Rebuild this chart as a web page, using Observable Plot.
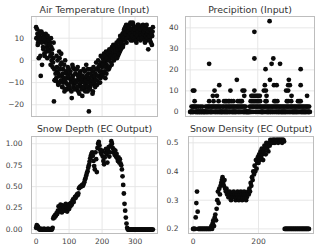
<!DOCTYPE html>
<html><head><meta charset="utf-8">
<script src="https://cdn.jsdelivr.net/npm/d3@7"></script>
<script src="https://cdn.jsdelivr.net/npm/@observablehq/plot@0.6"></script>
<style>
html,body{margin:0;padding:0;background:#fff;}
#grid{position:relative;width:320px;height:252px;overflow:hidden;font-family:"DejaVu Sans",sans-serif;}
#grid > div{position:absolute;}
svg{display:block;}
</style></head><body><div id="grid"></div>
<script>
// ---- data ----
const titles = ["Air Temperature (Input)", "Precipition (Input)", "Snow Depth (EC Output)", "Snow Density (EC Output)"];
const sampleStep = 2;     // days between samples of the series below
const recordDays = 355;   // length of the daily record

// air temperature (°C) on even days 0, 2, 4, ...
const temperature = [
  15, 10, 12, 8, 1, 11, 9, -7, 13, -2,
  9, 5, 11, 2, 8, 10, 6, 1, 9, 7,
  4, 8, -2, 6, 3, -3, 1, -18.5, -9, -9,
  -9, 2, -5, -10, -6, 4, -10, -2, 3, -7,
  -12, -4, -8, -14, 0, -10, -6, -13, -3, -11,
  -8, -13, -5, -9, -17, -2, -7, -11, -4, -10,
  -6, -13, -9, -3, -14, -8, -11, -5, -12, -7,
  -16, -9, -4, -13, -8, -11, -2, -10, -14, -6,
  -23, -9, -12, -4, -10, -7, -14, -3, -8, -11,
  -6, -1, -9, -4, 0, -7, -2, -10, 2, -5,
  -3, 1, -6, 3, -1, -8, 4, -2, 0, 2,
  -4, 5, 1, 3, -1, 6, 2, 7, 0, 4,
  6, 3, 8, 5, 2, 9, 6, 4, 10, 7,
  9, 12, 7, 13, 10, 15, 11, 8, 14, 12,
  16, 10, 13, 17, 11, 14, 9, 16, 12, 15,
  11, 14, 8, 13, 16, 10, 12, 15, 9, 13,
  14, 11, 16, 10, 13, 8, 15, 12, 9, 14,
  5, 12, 10, 14, 8, 13, 11, 15
];
// air temperature (°C) on odd days 1, 3, 5, ...
const temperatureOdd = [
  10, 14, 7, 11, 9, 13, 2, 10, 8, 12,
  6, 10, 3, 9, 12, 4, 8, 11, 5, 9,
  7, 2, 10, 0, 5, -1, 8, -4, -9, -6,
  -8, -3, 0, -11, -7, 1, -4, -9, -1, -12,
  -6, -10, -2, -9, -13, -5, -8, -11, -7, -4,
  -12, -6, -10, -14, -8, -3, -12, -9, -13, -6,
  -10, -4, -12, -7, -9, -15, -6, -10, -8, -13,
  -7, -12, -10, -5, -14, -9, -7, -12, -4, -10,
  -8, -13, -6, -11, -9, -15, -5, -10, -7, -12,
  -9, -4, -11, -7, -3, -10, -5, -8, -1, -6,
  -7, -2, 0, -5, 2, -3, -6, 1, -4, 3,
  0, -3, 4, 2, -2, 5, 1, 3, 6, 2,
  4, 7, 1, 5, 8, 3, 6, 11, 5, 8,
  11, 6, 10, 14, 9, 12, 16, 10, 13, 11,
  13, 15, 12, 9, 14, 11, 17, 13, 10, 14,
  12, 9, 15, 11, 13, 16, 10, 14, 12, 11,
  10, 15, 12, 13, 9, 14, 11, 16, 12, 10,
  13, 11, 9, 14, 12, 7, 13
];

// precipitation (mm): days with rain, grouped by amount; every other day is 0
const rainLevels = [2.54, 5.08, 7.62, 10.16, 12.7, 15.24, 20.32, 22.86, 25.4, 38.1, 43.18];
const rainDays = [
  [4, 8, 11, 15, 19, 24, 30, 36, 46, 50, 54, 58, 62, 66, 70, 74, 78, 82, 86, 90, 95, 99, 104, 108, 112, 116, 120, 124, 128, 132, 136, 140, 144, 148, 152, 156, 160, 164, 176, 180, 184, 188, 192, 196, 200, 204, 208, 212, 216, 220, 224, 228, 232, 236, 240, 244, 248, 252, 256, 260, 264, 268, 272, 276, 280, 284, 288, 292, 296, 300, 304, 308, 312, 316, 320, 324, 328, 332, 336, 340, 344, 348, 352],
  [13, 56, 69, 84, 100, 104, 108, 113, 116, 122, 128, 141, 146, 150, 153, 179, 183, 187, 191, 195, 199, 203, 207, 223, 226, 249, 253, 258, 286, 290, 299, 319, 323, 327],
  [67, 79, 160, 181, 185, 189, 194, 198, 202, 206, 226, 300, 346],
  [8, 12, 72, 119, 155, 160, 190, 218, 224, 284, 290],
  [86, 221, 248, 256, 290, 295, 327],
  [138, 236, 292],
  [223, 327],
  [56, 241, 266],
  [190, 246],
  [190],
  [235]
];

// snow depth (m), one value every 2 days from day 0
const snowDepth = [
  0.02, 0.05, 0.04, 0.03, 0.01,
  0, 0, 0.01, 0, 0, 0, 0, 0.01, 0, 0, 0, 0, 0, 0.01, 0, 0, 0, 0, 0, 0,
  0.02, 0.13, 0.15,
  0.14, 0.17, 0.16, 0.19, 0.18,
  0.22, 0.27, 0.21, 0.25, 0.29, 0.24, 0.2, 0.28, 0.23, 0.26,
  0.22, 0.27, 0.3, 0.25, 0.21, 0.26, 0.28, 0.24, 0.3, 0.27,
  0.31, 0.29, 0.33, 0.35, 0.32, 0.36, 0.38, 0.37, 0.39, 0.41, 0.4, 0.42,
  0.48, 0.49, 0.5, 0.5, 0.51, 0.52, 0.51, 0.53, 0.55, 0.58,
  0.6, 0.63, 0.66, 0.68, 0.72, 0.75, 0.79, 0.83, 0.86, 0.88,
  0.9, 0.86, 0.8, 0.74, 0.7, 0.9, 0.82, 0.67, 0.95, 1.0,
  1.02, 0.98, 0.93, 0.9, 0.88, 0.92, 0.85, 0.8, 0.76, 0.84,
  0.9, 0.94, 0.88, 0.78, 0.92, 0.96, 0.85, 0.9, 0.98, 1.03,
  1.0, 0.95, 0.9, 0.93, 0.87, 0.92, 0.85, 0.88, 0.83, 0.8,
  0.84, 0.78, 0.82, 0.77, 0.75, 0.7, 0.62, 0.52, 0.42, 0.3,
  0.22, 0.14, 0.07, 0.02, 0,
  0, 0, 0, 0, 0, 0, 0, 0, 0, 0, 0, 0, 0, 0, 0, 0, 0, 0, 0,
  0, 0, 0, 0, 0, 0, 0, 0, 0, 0, 0, 0, 0, 0, 0, 0, 0, 0, 0
];

// snow density (g/cm³), one value every 2 days from day 0
const snowDensity = [
  0.2, 0.2, 0.2, 0.2,
  0.24, 0.29, 0.33, 0.26,
  0.2, 0.2, 0.2, 0.2, 0.2, 0.2, 0.2, 0.2, 0.2, 0.2, 0.2, 0.2, 0.2, 0.2, 0.2, 0.2, 0.2, 0.2, 0.2, 0.2,
  0.21, 0.2, 0.22, 0.23, 0.21, 0.24, 0.25, 0.23,
  0.27, 0.3, 0.33, 0.29, 0.34, 0.32, 0.35, 0.36,
  0.37, 0.38, 0.36, 0.35, 0.37, 0.34, 0.33,
  0.34, 0.32, 0.33, 0.31, 0.32, 0.33, 0.31, 0.3, 0.32, 0.31,
  0.32, 0.33, 0.31, 0.32, 0.3, 0.31, 0.32, 0.33, 0.31, 0.3,
  0.31, 0.32, 0.33, 0.32, 0.3, 0.31, 0.32, 0.33, 0.31, 0.32,
  0.3, 0.31, 0.32, 0.33, 0.32,
  0.34, 0.33, 0.36, 0.35, 0.38, 0.37, 0.4, 0.39, 0.42, 0.4, 0.44, 0.41, 0.43, 0.45,
  0.43, 0.46, 0.44, 0.47, 0.45, 0.48, 0.46, 0.44, 0.47, 0.49, 0.48, 0.46, 0.5, 0.48, 0.49, 0.47, 0.5, 0.49, 0.51, 0.5,
  0.5, 0.51, 0.5, 0.51, 0.51, 0.5, 0.51, 0.505, 0.51, 0.51, 0.5, 0.51, 0.51, 0.505, 0.51, 0.51, 0.5, 0.51, 0.51, 0.505,
  0.2, 0.2, 0.2, 0.2, 0.2, 0.2, 0.2, 0.2, 0.2, 0.2, 0.2, 0.2, 0.2, 0.2, 0.2, 0.2, 0.2, 0.2, 0.2,
  0.2, 0.2, 0.2, 0.2, 0.2, 0.2, 0.2, 0.2, 0.2, 0.2, 0.2, 0.2, 0.2, 0.2, 0.2, 0.2, 0.2, 0.2, 0.2
];

const xTicksLeft = [0, 100, 200, 300];
const xTicksRight = [0, 200];
const tempTicks = [-20, -10, 0, 10];
const precipTicks = [0, 10, 20, 30, 40];
const depthTicks = [0, 0.25, 0.5, 0.75, 1.0];
const densityTicks = [0.2, 0.3, 0.4, 0.5];

// ---- build tables ----
const sampled = (arr, offset = 0) => arr.map((v, i) => ({day: i * sampleStep + offset, value: v}));
const tempData = sampled(temperature).concat(sampled(temperatureOdd, 1));
const depthData = sampled(snowDepth);
const densityData = sampled(snowDensity);
const wetDays = new Set(rainDays.flat());
const precipData = [];
rainLevels.forEach((mm, k) => rainDays[k].forEach(d => precipData.push({day: d, value: mm})));
d3.range(recordDays).forEach(d => { if (!wetDays.has(d)) precipData.push({day: d, value: 0}); });

const gridColor = "#e4e4e4", frameColor = "#bdbdbd", labelColor = "#444", titleColor = "#333";
const minusFmt = d => (d < 0 ? "\u2212" + Math.abs(d) : String(d));

function panel(o) {
  const chart = Plot.plot({
    width: 160, height: 126,
    marginLeft: o.ml, marginRight: o.mr, marginTop: o.mt, marginBottom: o.mb,
    x: {domain: [-14, 368], axis: null, label: null},
    y: {domain: o.yDomain, axis: null, label: null},
    style: {fontFamily: "DejaVu Sans", background: "transparent", overflow: "visible"},
    marks: [
      Plot.gridX(o.xTicks, {stroke: gridColor, strokeOpacity: 1, strokeWidth: 0.9}),
      Plot.gridY(o.yTicks, {stroke: gridColor, strokeOpacity: 1, strokeWidth: 0.9}),
      Plot.dot(o.data, {x: "day", y: "value", r: 2.4, fill: "#0a0a0a", stroke: "none"}),
      Plot.frame({stroke: frameColor, strokeWidth: 1}),
      Plot.axisY(o.yTicks, {tickSize: 0, tickPadding: o.padY, fontSize: 7.5, fill: labelColor, tickFormat: o.fmt, label: null}),
      o.showX ? Plot.axisX(o.xTicks, {tickSize: 0, tickPadding: 5, fontSize: 7.5, fill: labelColor, label: null}) : null,
      Plot.text([o.title], {frameAnchor: "top", dy: o.titleDy, lineAnchor: "bottom", fontSize: 9.4, fill: titleColor})
    ]
  });
  const holder = document.createElement("div");
  holder.style.left = o.left + "px";
  holder.style.top = o.top + "px";
  holder.appendChild(chart);
  document.getElementById("grid").appendChild(holder);
}

panel({left: 0, top: 0, ml: 31, mr: 3, mt: 16, mb: 10, data: tempData, yDomain: [-25.3, 19.8],
  yTicks: tempTicks, xTicks: xTicksLeft, fmt: minusFmt, padY: 7.5, showX: false, title: titles[0], titleDy: -4});
panel({left: 160, top: 0, ml: 25, mr: 6, mt: 16, mb: 10, data: precipData, yDomain: [-2.2, 45.4],
  yTicks: precipTicks, xTicks: xTicksRight, fmt: minusFmt, padY: 7, showX: false, title: titles[1], titleDy: -4});
panel({left: 0, top: 126, ml: 31, mr: 3, mt: 10, mb: 19, data: depthData, yDomain: [-0.046, 1.084],
  yTicks: depthTicks, xTicks: xTicksLeft, fmt: d3.format(".2f"), padY: 9, showX: true, title: titles[2], titleDy: -5});
panel({left: 160, top: 126, ml: 28, mr: 7, mt: 10, mb: 19, data: densityData, yDomain: [0.184, 0.522],
  yTicks: densityTicks, xTicks: xTicksRight, fmt: d3.format(".1f"), padY: 10, showX: true, title: titles[3], titleDy: -5});
</script>
</body></html>
